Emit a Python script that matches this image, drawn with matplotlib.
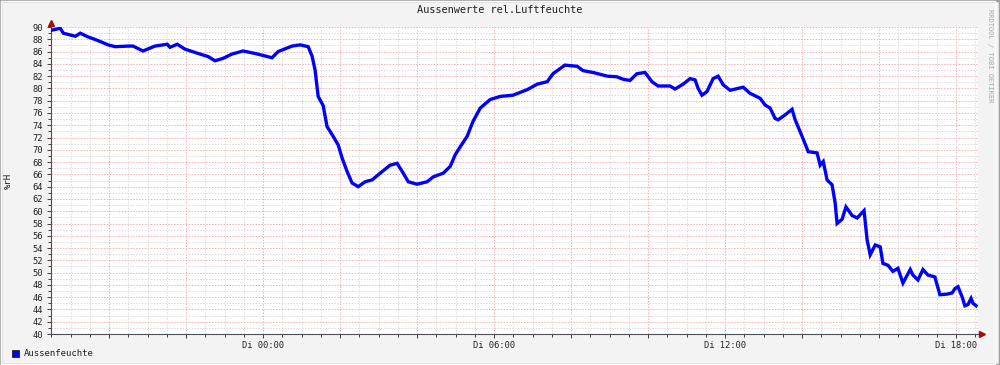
import matplotlib.pyplot as plt
from matplotlib.patches import Rectangle
from matplotlib.ticker import MultipleLocator, FuncFormatter
import numpy as np

# hours relative to Tuesday 00:00
hours = [-5.48, -5.27, -5.19, -4.88, -4.75, -4.55, -4.29, -4.03, -3.84, -3.51,
         -3.38, -3.12, -2.81, -2.49, -2.42, -2.23, -2.03, -1.69, -1.43, -1.25,
         -1.04, -0.81, -0.52, -0.21, 0.23, 0.39, 0.75, 0.96, 1.17, 1.27,
         1.35, 1.43, 1.56, 1.66, 1.82, 1.95, 2.05, 2.18, 2.31, 2.47,
         2.65, 2.83, 3.04, 3.30, 3.48, 3.64, 3.77, 4.00, 4.26, 4.42,
         4.68, 4.86, 4.99, 5.12, 5.30, 5.45, 5.64, 5.90, 6.16, 6.49,
         6.86, 7.12, 7.38, 7.53, 7.84, 8.16, 8.31, 8.57, 8.94, 9.19,
         9.35, 9.53, 9.71, 9.92, 10.10, 10.26, 10.57, 10.70, 10.91, 11.09,
         11.22, 11.30, 11.40, 11.53, 11.69, 11.82, 11.95, 12.13, 12.47, 12.65,
         12.91, 13.04, 13.17, 13.30, 13.38, 13.56, 13.74, 13.82, 14.00, 14.16,
         14.39, 14.47, 14.55, 14.65, 14.78, 14.86, 14.91, 15.04, 15.14, 15.30,
         15.43, 15.61, 15.69, 15.77, 15.90, 16.03, 16.10, 16.23, 16.36, 16.49,
         16.62, 16.81, 16.88, 17.01, 17.14, 17.27, 17.45, 17.58, 17.77, 17.90,
         17.97, 18.05, 18.16, 18.23, 18.31, 18.39, 18.44, 18.52]

feuchte = [89.5, 89.8, 89.0, 88.5, 89.0, 88.4, 87.8, 87.1, 86.8, 86.9,
           86.9, 86.1, 86.9, 87.2, 86.7, 87.2, 86.4, 85.7, 85.2, 84.5,
           84.9, 85.6, 86.1, 85.7, 85.0, 86.0, 86.9, 87.1, 86.8, 85.3,
           83.0, 78.7, 77.2, 73.8, 72.2, 70.8, 68.7, 66.5, 64.6, 64.0,
           64.8, 65.1, 66.2, 67.5, 67.8, 66.2, 64.8, 64.4, 64.8, 65.6,
           66.2, 67.3, 69.2, 70.5, 72.2, 74.6, 76.8, 78.2, 78.7, 78.9,
           79.8, 80.7, 81.1, 82.4, 83.8, 83.6, 82.9, 82.6, 82.0, 81.9,
           81.5, 81.3, 82.4, 82.6, 81.1, 80.4, 80.4, 79.9, 80.7, 81.6,
           81.4, 80.0, 78.9, 79.5, 81.6, 82.0, 80.6, 79.7, 80.2, 79.2,
           78.4, 77.3, 76.8, 75.1, 74.9, 75.7, 76.6, 74.9, 72.2, 69.7,
           69.5, 67.5, 68.1, 65.1, 64.3, 61.3, 58.0, 58.7, 60.7, 59.3,
           58.9, 60.1, 55.3, 52.9, 54.5, 54.2, 51.5, 51.2, 50.2, 50.7,
           48.3, 50.5, 49.6, 48.8, 50.5, 49.6, 49.3, 46.4, 46.5, 46.7,
           47.4, 47.7, 46.0, 44.6, 44.8, 45.8, 45.0, 44.6]

x_labels = {0: "Di 00:00", 6: "Di 06:00", 12: "Di 12:00", 18: "Di 18:00"}

mono = "DejaVu Sans Mono"
plt.rcParams['font.family'] = mono

fig = plt.figure(figsize=(10, 3.65), dpi=100, facecolor="#F3F3F3")

# frame shading like rrdtool
fig.patches.append(Rectangle((0, 0), 1, 1, transform=fig.transFigure,
                             facecolor="none", edgecolor="#A0A0A0", linewidth=2.5))
fig.patches.append(Rectangle((0.001, 0.003), 0.994, 0.994, transform=fig.transFigure,
                             facecolor="none", edgecolor="#FCFCFC", linewidth=1))

ax = fig.add_axes([0.051, 0.0849, 0.927, 0.841])
ax.set_facecolor("white")
ax.plot(hours, feuchte, color="#0000FF", linewidth=2.4,
        solid_joinstyle="miter", zorder=3)

ax.set_xlim(-5.51, 18.57)
ax.set_ylim(40, 90)

ax.xaxis.set_major_locator(MultipleLocator(2))
ax.xaxis.set_minor_locator(MultipleLocator(0.5))
ax.xaxis.set_major_formatter(FuncFormatter(lambda v, p: x_labels.get(int(round(v)), "")))
ax.yaxis.set_major_locator(MultipleLocator(2))
ax.yaxis.set_minor_locator(MultipleLocator(1))
ax.yaxis.set_major_formatter(FuncFormatter(lambda v, p: f"{v:.0f}"))

ax.grid(which="minor", color="#DCDCDC", linestyle=(0, (1.5, 1.5)), linewidth=0.7)
ax.grid(which="major", color="#F5B0B0", linestyle=(0, (1.5, 1.5)), linewidth=0.7)
ax.set_axisbelow(True)

ax.tick_params(which="both", labelsize=6.3, colors="#202020", direction="out")
ax.tick_params(which="major", length=3, width=0.6)
ax.tick_params(which="minor", length=2, width=0.6)
ax.tick_params(axis="x", pad=2)
ax.tick_params(axis="y", pad=3)

for s in ["top", "right"]:
    ax.spines[s].set_visible(False)
for s in ["left", "bottom"]:
    ax.spines[s].set_color("#505050")
    ax.spines[s].set_linewidth(0.8)

# axis arrows
ax.plot([0], [1.012], marker="^", color="#A01010", markersize=4,
        transform=ax.transAxes, clip_on=False)
ax.plot([1.004], [0], marker=">", color="#A01010", markersize=4,
        transform=ax.transAxes, clip_on=False)

fig.text(0.5, 0.972, "Aussenwerte rel.Luftfeuchte", ha="center", va="center",
         fontsize=7.4, color="#202020")
fig.text(0.008, 0.505, "%rH", rotation=90, ha="center", va="center",
         fontsize=6.5, color="#202020")
fig.text(0.990, 0.975, "RRDTOOL / TOBI OETIKER", rotation=270, ha="center", va="top",
         fontsize=5, color="#A8A8A8")

# legend
fig.patches.append(Rectangle((0.0115, 0.022), 0.0075, 0.02, transform=fig.transFigure,
                             facecolor="#0000FF", edgecolor="#202020", linewidth=0.6))
fig.text(0.024, 0.032, "Aussenfeuchte", ha="left", va="center", fontsize=6.5,
         color="#202020")

fig.savefig("out.png", dpi=100, facecolor=fig.get_facecolor())
